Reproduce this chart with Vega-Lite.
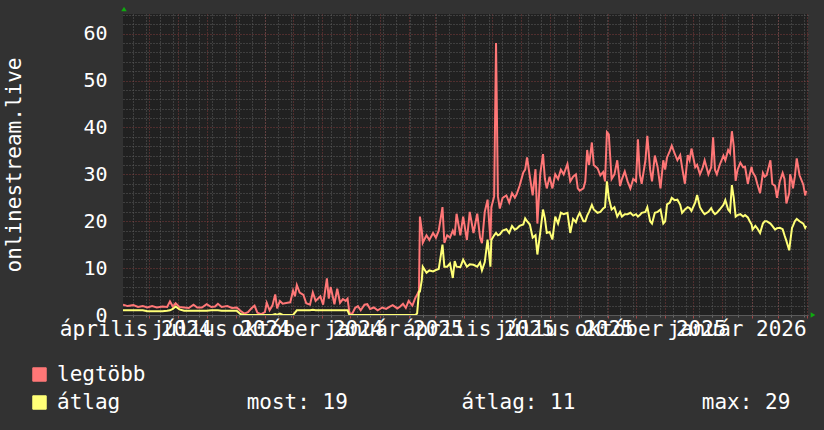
{
  "$schema": "https://vega.github.io/schema/vega-lite/v6.json",
  "autosize": {"type": "none"},
  "width": 685,
  "height": 301,
  "padding": {"left": 123, "top": 14, "right": 16, "bottom": 115},
  "background": "#323232",
  "config": {
    "view": {"fill": "#212121", "stroke": null},
    "font": "DejaVu Sans Mono",
    "axis": {"labelFont": "DejaVu Sans Mono", "titleFont": "DejaVu Sans Mono"}
  },
  "data": {"values": [
    {"t":"2024-04-03","max":2.2,"avg":1.0},{"t":"2024-04-08","max":1.9,"avg":1.0},{"t":"2024-04-14","max":2.1,"avg":1.0},{"t":"2024-04-19","max":1.7,"avg":1.0},{"t":"2024-04-24","max":1.9,"avg":1.0},{"t":"2024-04-29","max":1.6,"avg":0.8},
    {"t":"2024-05-04","max":1.9,"avg":0.8},{"t":"2024-05-09","max":1.6,"avg":0.8},{"t":"2024-05-15","max":1.8,"avg":0.8},{"t":"2024-05-20","max":1.7,"avg":0.9},{"t":"2024-05-23","max":2.9,"avg":1.0},{"t":"2024-05-26","max":1.8,"avg":1.3},{"t":"2024-05-29","max":2.5,"avg":1.8},
    {"t":"2024-06-02","max":1.7,"avg":1.2},{"t":"2024-06-07","max":1.6,"avg":0.9},{"t":"2024-06-12","max":1.5,"avg":0.9},{"t":"2024-06-17","max":2.2,"avg":0.9},{"t":"2024-06-21","max":1.6,"avg":0.9},{"t":"2024-06-26","max":1.6,"avg":0.9},
    {"t":"2024-07-01","max":2.3,"avg":0.9},{"t":"2024-07-06","max":1.7,"avg":1.0},{"t":"2024-07-10","max":1.8,"avg":1.0},{"t":"2024-07-13","max":2.4,"avg":1.0},{"t":"2024-07-17","max":1.7,"avg":0.9},{"t":"2024-07-23","max":1.9,"avg":0.9},{"t":"2024-07-28","max":1.5,"avg":0.9},
    {"t":"2024-08-02","max":1.6,"avg":0.9},{"t":"2024-08-06","max":0.9,"avg":0.2},{"t":"2024-08-10","max":0.3,"avg":0},{"t":"2024-08-14","max":0.6,"avg":0},{"t":"2024-08-18","max":1.5,"avg":0},{"t":"2024-08-21","max":2.0,"avg":0},{"t":"2024-08-24","max":0.5,"avg":0},{"t":"2024-08-28","max":0.2,"avg":0},
    {"t":"2024-09-01","max":0.6,"avg":0},{"t":"2024-09-03","max":2.6,"avg":0},{"t":"2024-09-06","max":1.0,"avg":0},{"t":"2024-09-09","max":2.0,"avg":0},{"t":"2024-09-12","max":4.4,"avg":0.2},{"t":"2024-09-14","max":1.4,"avg":0},{"t":"2024-09-17","max":3.0,"avg":0.3},{"t":"2024-09-20","max":2.4,"avg":0},{"t":"2024-09-25","max":2.6,"avg":0},{"t":"2024-09-28","max":2.7,"avg":0},
    {"t":"2024-10-01","max":5.2,"avg":0},{"t":"2024-10-03","max":4.0,"avg":0.5},{"t":"2024-10-05","max":6.4,"avg":1.0},{"t":"2024-10-08","max":4.8,"avg":1.0},{"t":"2024-10-12","max":4.3,"avg":1.0},{"t":"2024-10-15","max":2.5,"avg":1.0},{"t":"2024-10-19","max":2.2,"avg":1.0},{"t":"2024-10-22","max":4.8,"avg":1.1},{"t":"2024-10-25","max":3.0,"avg":1.0},{"t":"2024-10-30","max":4.0,"avg":1.0},
    {"t":"2024-11-02","max":2.2,"avg":1.0},{"t":"2024-11-04","max":5.0,"avg":1.0},{"t":"2024-11-06","max":7.8,"avg":1.0},{"t":"2024-11-08","max":3.5,"avg":1.0},{"t":"2024-11-10","max":6.0,"avg":1.0},{"t":"2024-11-14","max":2.3,"avg":1.0},{"t":"2024-11-17","max":5.6,"avg":1.0},{"t":"2024-11-20","max":2.6,"avg":1.0},{"t":"2024-11-23","max":3.4,"avg":1.0},{"t":"2024-11-26","max":3.0,"avg":1.0},{"t":"2024-11-28","max":3.5,"avg":1.0},{"t":"2024-11-30","max":0.4,"avg":0},
    {"t":"2024-12-03","max":0.3,"avg":0},{"t":"2024-12-06","max":1.5,"avg":0},{"t":"2024-12-09","max":1.9,"avg":0},{"t":"2024-12-12","max":1.0,"avg":0},{"t":"2024-12-16","max":2.2,"avg":0},{"t":"2024-12-19","max":2.3,"avg":0},{"t":"2024-12-22","max":1.3,"avg":0},{"t":"2024-12-26","max":1.6,"avg":0},{"t":"2024-12-30","max":1.0,"avg":0},
    {"t":"2025-01-04","max":1.6,"avg":0},{"t":"2025-01-08","max":1.3,"avg":0},{"t":"2025-01-12","max":1.8,"avg":0},{"t":"2025-01-15","max":2.1,"avg":0},{"t":"2025-01-20","max":1.4,"avg":0},{"t":"2025-01-23","max":1.8,"avg":0},{"t":"2025-01-26","max":2.4,"avg":0},{"t":"2025-01-29","max":1.5,"avg":0},
    {"t":"2025-02-01","max":3.0,"avg":0},{"t":"2025-02-05","max":2.0,"avg":0},{"t":"2025-02-08","max":3.6,"avg":0},{"t":"2025-02-10","max":4.3,"avg":0.3},{"t":"2025-02-12","max":5.2,"avg":5.0},{"t":"2025-02-13","max":21,"avg":5.0},{"t":"2025-02-15","max":18,"avg":7.5},{"t":"2025-02-16","max":15.4,"avg":10.3},{"t":"2025-02-20","max":17.0,"avg":9.0},{"t":"2025-02-23","max":16.0,"avg":9.5},{"t":"2025-02-27","max":17.5,"avg":9.3},
    {"t":"2025-03-02","max":16.5,"avg":9.6},{"t":"2025-03-05","max":18.0,"avg":9.8},{"t":"2025-03-09","max":23.0,"avg":15.0},{"t":"2025-03-11","max":15.4,"avg":10.3},{"t":"2025-03-14","max":17.0,"avg":10.3},{"t":"2025-03-17","max":16.5,"avg":11.0},{"t":"2025-03-20","max":18.0,"avg":7.9},{"t":"2025-03-22","max":17.0,"avg":11.5},{"t":"2025-03-24","max":21.6,"avg":10.3},{"t":"2025-03-28","max":17.0,"avg":10.2},{"t":"2025-03-31","max":21.0,"avg":11.8},
    {"t":"2025-04-04","max":16.0,"avg":10.3},{"t":"2025-04-07","max":22.0,"avg":10.8},{"t":"2025-04-11","max":17.5,"avg":10.7},{"t":"2025-04-15","max":21.6,"avg":10.3},{"t":"2025-04-18","max":16.5,"avg":11.2},{"t":"2025-04-20","max":15.3,"avg":9.5},{"t":"2025-04-23","max":22.0,"avg":11.3},{"t":"2025-04-26","max":24.6,"avg":16.1},{"t":"2025-04-29","max":16.0,"avg":10.3},{"t":"2025-04-30","max":23.0,"avg":16.0},
    {"t":"2025-05-03","max":25.3,"avg":17.0},{"t":"2025-05-05","max":58.0,"avg":17.5},{"t":"2025-05-07","max":25.3,"avg":17.0},{"t":"2025-05-09","max":22.7,"avg":17.2},{"t":"2025-05-12","max":25.0,"avg":18.0},{"t":"2025-05-16","max":25.5,"avg":18.3},{"t":"2025-05-19","max":24.0,"avg":17.5},{"t":"2025-05-22","max":26.0,"avg":19.0},{"t":"2025-05-25","max":25.0,"avg":18.2},{"t":"2025-05-27","max":25.8,"avg":18.4},{"t":"2025-05-30","max":27.5,"avg":19.0},
    {"t":"2025-06-03","max":30.4,"avg":19.3},{"t":"2025-06-05","max":31.0,"avg":20.6},{"t":"2025-06-07","max":33.6,"avg":20.0},{"t":"2025-06-10","max":29.5,"avg":19.3},{"t":"2025-06-13","max":25.5,"avg":16.5},{"t":"2025-06-16","max":31.1,"avg":17.0},{"t":"2025-06-18","max":19.5,"avg":12.9},{"t":"2025-06-21","max":30.0,"avg":17.5},{"t":"2025-06-24","max":34.3,"avg":22.5},{"t":"2025-06-26","max":29.0,"avg":20.6},{"t":"2025-06-28","max":27.0,"avg":17.5},
    {"t":"2025-07-01","max":29.5,"avg":17.7},{"t":"2025-07-04","max":27.0,"avg":16.1},{"t":"2025-07-07","max":30.0,"avg":21.0},{"t":"2025-07-10","max":29.0,"avg":19.5},{"t":"2025-07-13","max":31.0,"avg":21.8},{"t":"2025-07-16","max":30.0,"avg":21.5},{"t":"2025-07-20","max":32.2,"avg":21.8},{"t":"2025-07-23","max":28.5,"avg":17.5},{"t":"2025-07-26","max":29.5,"avg":20.5},{"t":"2025-07-29","max":30.0,"avg":19.8},{"t":"2025-07-31","max":27.0,"avg":21.0},
    {"t":"2025-08-02","max":26.5,"avg":21.8},{"t":"2025-08-06","max":27.0,"avg":20.0},{"t":"2025-08-08","max":28.5,"avg":20.0},{"t":"2025-08-10","max":35.2,"avg":21.2},{"t":"2025-08-12","max":32.0,"avg":22.0},{"t":"2025-08-15","max":36.8,"avg":23.5},{"t":"2025-08-17","max":32.0,"avg":22.5},{"t":"2025-08-21","max":31.3,"avg":21.8},{"t":"2025-08-24","max":29.8,"avg":22.0},{"t":"2025-08-27","max":30.5,"avg":22.7},{"t":"2025-08-29","max":28.5,"avg":23.0},{"t":"2025-08-31","max":39.0,"avg":28.5},
    {"t":"2025-09-02","max":38.5,"avg":25.0},{"t":"2025-09-05","max":29.0,"avg":22.5},{"t":"2025-09-08","max":30.0,"avg":23.0},{"t":"2025-09-11","max":33.0,"avg":21.0},{"t":"2025-09-14","max":27.5,"avg":22.0},{"t":"2025-09-16","max":29.0,"avg":21.0},{"t":"2025-09-19","max":30.6,"avg":21.5},{"t":"2025-09-22","max":28.5,"avg":21.5},{"t":"2025-09-25","max":27.0,"avg":21.8},{"t":"2025-09-28","max":29.0,"avg":21.2},
    {"t":"2025-10-01","max":28.5,"avg":21.5},{"t":"2025-10-03","max":37.5,"avg":21.0},{"t":"2025-10-05","max":30.0,"avg":21.3},{"t":"2025-10-07","max":28.0,"avg":21.8},{"t":"2025-10-11","max":33.0,"avg":22.0},{"t":"2025-10-13","max":38.2,"avg":23.0},{"t":"2025-10-16","max":31.0,"avg":20.0},{"t":"2025-10-18","max":28.5,"avg":19.5},{"t":"2025-10-21","max":34.0,"avg":21.8},{"t":"2025-10-24","max":31.5,"avg":22.0},{"t":"2025-10-27","max":27.0,"avg":22.5},{"t":"2025-10-30","max":33.0,"avg":19.5},
    {"t":"2025-11-01","max":31.0,"avg":20.0},{"t":"2025-11-03","max":33.6,"avg":23.6},{"t":"2025-11-06","max":35.0,"avg":24.0},{"t":"2025-11-08","max":36.1,"avg":25.0},{"t":"2025-11-11","max":34.5,"avg":24.5},{"t":"2025-11-14","max":33.0,"avg":24.6},{"t":"2025-11-17","max":34.1,"avg":23.5},{"t":"2025-11-19","max":31.5,"avg":21.8},{"t":"2025-11-22","max":28.0,"avg":22.5},{"t":"2025-11-25","max":34.1,"avg":23.0},{"t":"2025-11-27","max":33.0,"avg":22.8},{"t":"2025-11-29","max":35.5,"avg":22.2},
    {"t":"2025-12-03","max":31.5,"avg":24.0},{"t":"2025-12-05","max":32.0,"avg":25.6},{"t":"2025-12-08","max":30.0,"avg":23.0},{"t":"2025-12-11","max":31.5,"avg":22.0},{"t":"2025-12-13","max":33.0,"avg":21.5},{"t":"2025-12-17","max":30.0,"avg":22.0},{"t":"2025-12-20","max":31.5,"avg":22.8},{"t":"2025-12-22","max":37.9,"avg":22.0},{"t":"2025-12-24","max":31.0,"avg":21.5},{"t":"2025-12-26","max":30.0,"avg":21.8},{"t":"2025-12-29","max":32.0,"avg":22.5},
    {"t":"2026-01-02","max":34.0,"avg":23.5},{"t":"2026-01-04","max":33.0,"avg":24.5},{"t":"2026-01-07","max":35.2,"avg":22.5},{"t":"2026-01-09","max":34.5,"avg":22.0},{"t":"2026-01-11","max":39.2,"avg":27.7},{"t":"2026-01-13","max":36.0,"avg":25.0},{"t":"2026-01-15","max":28.6,"avg":21.0},{"t":"2026-01-17","max":31.0,"avg":21.3},{"t":"2026-01-20","max":32.5,"avg":21.5},{"t":"2026-01-23","max":31.5,"avg":21.0},{"t":"2026-01-25","max":31.6,"avg":21.3},{"t":"2026-01-28","max":28.0,"avg":20.8},{"t":"2026-01-30","max":30.0,"avg":20.0},
    {"t":"2026-02-01","max":31.6,"avg":19.3},{"t":"2026-02-02","max":30.5,"avg":18.2},{"t":"2026-02-05","max":29.5,"avg":19.0},{"t":"2026-02-07","max":28.0,"avg":18.5},{"t":"2026-02-10","max":26.0,"avg":17.5},{"t":"2026-02-13","max":30.3,"avg":19.5},{"t":"2026-02-15","max":29.5,"avg":20.0},{"t":"2026-02-17","max":29.8,"avg":20.0},{"t":"2026-02-21","max":33.0,"avg":19.5},{"t":"2026-02-23","max":28.0,"avg":19.0},{"t":"2026-02-26","max":27.5,"avg":18.2},{"t":"2026-02-28","max":25.0,"avg":18.5},
    {"t":"2026-03-03","max":28.5,"avg":18.6},{"t":"2026-03-06","max":30.3,"avg":18.3},{"t":"2026-03-08","max":29.0,"avg":17.0},{"t":"2026-03-10","max":23.8,"avg":15.8},{"t":"2026-03-13","max":26.0,"avg":13.8},{"t":"2026-03-14","max":30.0,"avg":15.5},{"t":"2026-03-16","max":28.5,"avg":18.6},{"t":"2026-03-17","max":27.0,"avg":19.0},{"t":"2026-03-19","max":29.5,"avg":20.0},{"t":"2026-03-21","max":33.4,"avg":20.5},{"t":"2026-03-24","max":29.8,"avg":20.0},{"t":"2026-03-28","max":27.8,"avg":19.5},{"t":"2026-03-30","max":25.5,"avg":18.6},{"t":"2026-03-31","max":26.5,"avg":19.0}
  ]},
  "resolve": {"axis": {"x": "independent", "y": "independent"}},
  "layer": [
    {
      "mark": {"type": "line", "strokeWidth": 2, "clip": true},
      "encoding": {
        "x": {"field": "t", "type": "temporal",
          "scale": {"type": "utc", "domain": [{"year": 2024, "month": 4, "date": 3, "utc": true}, {"year": 2026, "month": 4, "date": 2, "utc": true}]},
          "axis": {"orient": "bottom", "title": null, "labels": false, "domain": false, "ticks": true, "tickSize": 2, "tickColor": "#6a6a6a", "grid": true, "gridColor": "#5e5e5e", "gridDash": [1, 2], "gridWidth": 1,
            "values": [
              {"year":2024,"month":4,"date":14,"utc":true},{"year":2024,"month":4,"date":28,"utc":true},{"year":2024,"month":5,"date":12,"utc":true},{"year":2024,"month":5,"date":26,"utc":true},
              {"year":2024,"month":6,"date":9,"utc":true},{"year":2024,"month":6,"date":23,"utc":true},{"year":2024,"month":7,"date":7,"utc":true},{"year":2024,"month":7,"date":21,"utc":true},
              {"year":2024,"month":8,"date":4,"utc":true},{"year":2024,"month":8,"date":18,"utc":true},{"year":2024,"month":9,"date":1,"utc":true},{"year":2024,"month":9,"date":15,"utc":true},
              {"year":2024,"month":9,"date":29,"utc":true},{"year":2024,"month":10,"date":13,"utc":true},{"year":2024,"month":10,"date":27,"utc":true},{"year":2024,"month":11,"date":10,"utc":true},
              {"year":2024,"month":11,"date":24,"utc":true},{"year":2024,"month":12,"date":8,"utc":true},{"year":2024,"month":12,"date":22,"utc":true},{"year":2025,"month":1,"date":5,"utc":true},
              {"year":2025,"month":1,"date":19,"utc":true},{"year":2025,"month":2,"date":2,"utc":true},{"year":2025,"month":2,"date":16,"utc":true},{"year":2025,"month":3,"date":2,"utc":true},
              {"year":2025,"month":3,"date":16,"utc":true},{"year":2025,"month":3,"date":30,"utc":true},{"year":2025,"month":4,"date":13,"utc":true},{"year":2025,"month":4,"date":27,"utc":true},
              {"year":2025,"month":5,"date":11,"utc":true},{"year":2025,"month":5,"date":25,"utc":true},{"year":2025,"month":6,"date":8,"utc":true},{"year":2025,"month":6,"date":22,"utc":true},
              {"year":2025,"month":7,"date":6,"utc":true},{"year":2025,"month":7,"date":20,"utc":true},{"year":2025,"month":8,"date":3,"utc":true},{"year":2025,"month":8,"date":17,"utc":true},
              {"year":2025,"month":8,"date":31,"utc":true},{"year":2025,"month":9,"date":14,"utc":true},{"year":2025,"month":9,"date":28,"utc":true},{"year":2025,"month":10,"date":12,"utc":true},
              {"year":2025,"month":10,"date":26,"utc":true},{"year":2025,"month":11,"date":9,"utc":true},{"year":2025,"month":11,"date":23,"utc":true},{"year":2025,"month":12,"date":7,"utc":true},
              {"year":2025,"month":12,"date":21,"utc":true},{"year":2026,"month":1,"date":4,"utc":true},{"year":2026,"month":1,"date":18,"utc":true},{"year":2026,"month":2,"date":1,"utc":true},
              {"year":2026,"month":2,"date":15,"utc":true},{"year":2026,"month":3,"date":1,"utc":true},{"year":2026,"month":3,"date":15,"utc":true},{"year":2026,"month":3,"date":29,"utc":true}]}},
        "y": {"field": "max", "type": "quantitative",
          "scale": {"domain": [0, 64.2], "nice": false, "zero": true},
          "axis": {"orient": "left", "title": null, "labels": false, "domain": false, "ticks": false, "grid": true, "gridColor": "#5e5e5e", "gridDash": [1, 2], "values": [2,4,6,8,12,14,16,18,22,24,26,28,32,34,36,38,42,44,46,48,52,54,56,58,62,64]}},
        "color": {"datum": "legtöbb", "type": "nominal",
          "scale": {"domain": ["legtöbb", "átlag"], "range": ["#ff7777", "#ffff77"]},
          "legend": {
            "orient": "none", "legendX": -94, "legendY": 350, "title": null, "padding": 0,
            "direction": "vertical", "symbolType": "square", "symbolSize": 180,
            "symbolStrokeColor": "#000000", "symbolStrokeWidth": 1,
            "labelFont": "DejaVu Sans Mono", "labelFontSize": 21, "labelColor": "#ffffff",
            "labelOffset": 7, "labelLimit": 900, "rowPadding": 6,
            "labelExpr": "datum.label == 'átlag' ? 'átlag\u00a0\u00a0\u00a0\u00a0\u00a0\u00a0\u00a0\u00a0\u00a0\u00a0most: 19\u00a0\u00a0\u00a0\u00a0\u00a0\u00a0\u00a0\u00a0\u00a0átlag: 11\u00a0\u00a0\u00a0\u00a0\u00a0\u00a0\u00a0\u00a0\u00a0\u00a0max: 29' : datum.label",
            "encode": {"symbols": {"update": {"fill": {"scale": "color", "field": "value"}, "stroke": {"value": "#000000"}, "fillOpacity": {"value": 1}}}}
          }}
      }
    },
    {
      "mark": {"type": "line", "strokeWidth": 2, "clip": true},
      "encoding": {
        "x": {"field": "t", "type": "temporal",
          "scale": {"type": "utc", "domain": [{"year": 2024, "month": 4, "date": 3, "utc": true}, {"year": 2026, "month": 4, "date": 2, "utc": true}]},
          "axis": {"orient": "bottom", "title": null, "labels": false, "domain": false, "ticks": true, "tickSize": 3, "tickColor": "#a04848", "grid": true, "gridColor": "#9a4444", "gridOpacity": 0.8, "gridDash": [1, 2], "gridWidth": 1, "tickCount": {"interval": "month", "step": 1}}},
        "y": {"field": "avg", "type": "quantitative",
          "scale": {"domain": [0, 64.2], "nice": false, "zero": true},
          "axis": {"orient": "left", "title": "onlinestream.live", "titleFont": "DejaVu Sans Mono", "titleFontSize": 21, "titleFontWeight": "normal", "titleColor": "#ffffff", "titlePadding": 58,
            "labelFont": "DejaVu Sans Mono", "labelFontSize": 20, "labelColor": "#ffffff", "labelPadding": 16,
            "domain": false, "ticks": false, "grid": true, "gridColor": "#9a4444", "gridOpacity": 0.8, "gridDash": [1, 2],
            "values": [0, 10, 20, 30, 40, 50, 60]}},
        "color": {"datum": "átlag", "type": "nominal"}
      }
    },
    {
      "data": {"values": [{"t": "2024-04-03", "v": 64.2}]},
      "mark": {"type": "point", "shape": "triangle-up", "filled": true, "color": "#00dd00", "size": 30, "yOffset": -5, "xOffset": 1},
      "encoding": {
        "x": {"field": "t", "type": "temporal",
          "scale": {"type": "utc", "domain": [{"year": 2024, "month": 4, "date": 3, "utc": true}, {"year": 2026, "month": 4, "date": 2, "utc": true}]},
          "axis": {"orient": "bottom", "title": null, "domain": true, "domainColor": "#5a5a5a", "ticks": false, "grid": false,
            "labelFont": "DejaVu Sans Mono", "labelFontSize": 21, "labelColor": "#ffffff", "labelPadding": 3,
            "labelOverlap": false, "labelBound": false, "labelFlush": false, "labelLimit": 400,
            "values": [
              {"year": 2024, "month": 4, "date": 16, "utc": true}, {"year": 2024, "month": 7, "date": 16, "utc": true},
              {"year": 2024, "month": 10, "date": 16, "utc": true}, {"year": 2025, "month": 1, "date": 16, "utc": true},
              {"year": 2025, "month": 4, "date": 16, "utc": true}, {"year": 2025, "month": 7, "date": 16, "utc": true},
              {"year": 2025, "month": 10, "date": 16, "utc": true}, {"year": 2026, "month": 1, "date": 16, "utc": true}],
            "labelExpr": "['január','február','március','április','május','június','július','augusztus','szeptember','október','november','december'][utcmonth(datum.value)] + ' ' + utcyear(datum.value)"}},
        "y": {"field": "v", "type": "quantitative", "scale": {"domain": [0, 64.2], "nice": false}, "axis": null}
      }
    },
    {
      "data": {"values": [{"t": "2026-04-02", "v": 0}]},
      "mark": {"type": "point", "shape": "triangle-right", "filled": true, "color": "#00dd00", "size": 30, "xOffset": 5, "clip": false},
      "encoding": {
        "x": {"field": "t", "type": "temporal",
          "scale": {"type": "utc", "domain": [{"year": 2024, "month": 4, "date": 3, "utc": true}, {"year": 2026, "month": 4, "date": 2, "utc": true}]},
          "axis": null},
        "y": {"field": "v", "type": "quantitative", "scale": {"domain": [0, 64.2], "nice": false}, "axis": null}
      }
    }
  ]
}
